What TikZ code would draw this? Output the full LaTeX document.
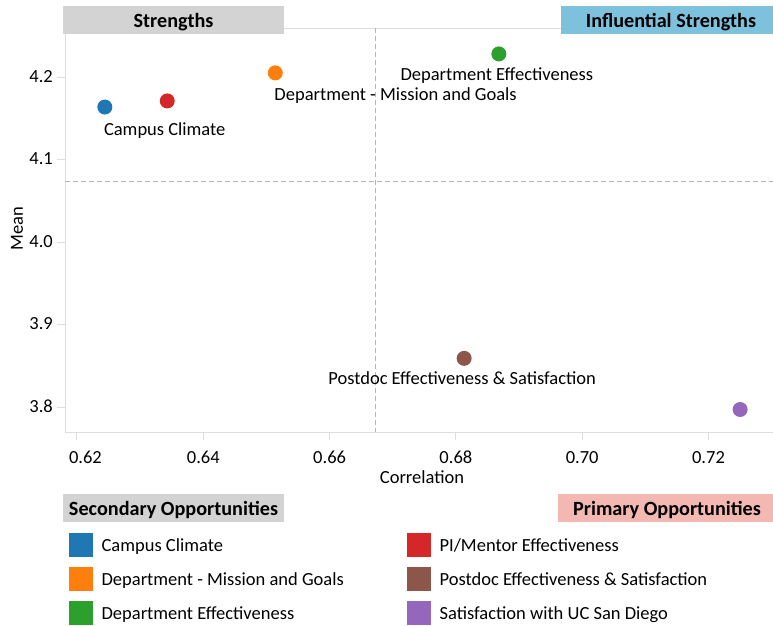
\documentclass[tikz,border=0pt]{standalone}
\usepackage{fontspec}
\setmainfont{Carlito}
\usepackage{xcolor}
\usepackage{tikz}
\usetikzlibrary{positioning,calc}

\definecolor{ccblue}{HTML}{1F77B4}
\definecolor{dmorange}{HTML}{FF7F0E}
\definecolor{degreen}{HTML}{2CA02C}
\definecolor{pired}{HTML}{D62728}
\definecolor{pebrown}{HTML}{8C564B}
\definecolor{sapurple}{HTML}{9467BD}
\definecolor{hdrgray}{HTML}{D3D3D3}
\definecolor{hdrblue}{HTML}{7EC1DC}
\definecolor{hdrpink}{HTML}{F3B8B2}
\definecolor{axisgray}{HTML}{DDDDDD}
\definecolor{guidegray}{HTML}{B4B4B4}

\begin{document}
\begin{tikzpicture}[x=1pt, y=-1pt,
    lbl/.style={font=\fontsize{18.5}{22}\selectfont, inner sep=0pt},
    hdr/.style={font=\bfseries\fontsize{20.2}{24}\selectfont, inner sep=0pt},
    dot/.style={circle, inner sep=0pt, minimum size=15pt},
    swatch/.style={inner sep=0pt, minimum size=24pt, anchor=north west},
    lgtxt/.style={lbl, text height=14pt, text depth=2pt, right=8pt of #1},
    axisline/.style={draw=axisgray, line width=1pt},
    guide/.style={draw=guidegray, line width=1pt, dash pattern=on 5pt off 3pt}]

    \useasboundingbox (0,0) rectangle (773,625);

    % Plot frame
    \coordinate (ftop) at (65,28);
    \coordinate (fbot) at (773,432);
    \draw[axisline] (ftop) rectangle (fbot);

    % Quadrant headers
    \fill[hdrgray] (63,6) rectangle (284,34);
    \node[hdr, anchor=base] (hstr) at (173.5,27) {Strengths};
    \fill[hdrblue] (561,6) rectangle (773,34);
    \node[hdr, anchor=base] (hinf) at (671,27) {Influential Strengths};

    % Data points (correlation, mean)
    \begin{scope}[x=6315pt, y=825pt, xshift=-3838.3pt, yshift=-3542pt]
        % Mean and correlation guides
        \coordinate (gv) at (0.6672,4.0);
        \coordinate (gh) at (0.64,4.073);
        \draw[guide] (gv |- ftop) -- (gv |- fbot);
        \draw[guide] (ftop |- gh) -- (fbot |- gh);

        % Axis ticks
        \foreach \c/\dx in {0.62/8.5,0.64/0,0.66/0,0.68/0,0.70/0,0.72/0} {
            \coordinate (xt) at (\c,4.0);
            \draw[axisline] (xt |- fbot) -- ++(0,-8pt);
            \node[lbl, anchor=base] (xl\c) at ($(xt |- fbot)+(\dx pt,-31pt)$) {\c};
        }
        \foreach \m in {3.8,3.9,4.0,4.1,4.2} {
            \coordinate (yt) at (0.64,\m);
            \draw[axisline] (ftop |- yt) -- ++(-8pt,0);
            \node[lbl, anchor=base east] (yl\m) at ($(ftop |- yt)+(-12pt,-5pt)$) {\m};
        }

        \node[dot, fill=ccblue] (cc) at (0.6244,4.1636) {};
        \node[dot, fill=pired] (pi) at (0.6343,4.171) {};
        \node[dot, fill=dmorange] (dm) at (0.6514,4.205) {};
        \node[dot, fill=degreen] (de) at (0.6868,4.228) {};
        \node[dot, fill=pebrown] (pe) at (0.6813,3.859) {};
        \node[dot, fill=sapurple] (sa) at (0.725,3.797) {};
    \end{scope}

    % Point labels
    \node[lbl, anchor=base west] (cclbl) at ($(cc)+(-1pt,-28pt)$) {Campus Climate};
    \node[lbl, anchor=base west] (dmlbl) at ($(dm)+(-1pt,-28pt)$) {Department - Mission and Goals};
    \node[lbl, anchor=base] (delbl) at ($(de)+(-2pt,-27pt)$) {Department Effectiveness};
    \node[lbl, anchor=base] (pelbl) at ($(pe)+(-2pt,-26pt)$) {Postdoc Effectiveness \& Satisfaction};

    % Axis titles
    \node[lbl, anchor=base] (xtitle) at (422,483) {Correlation};
    \node[lbl, anchor=base, rotate=90] (ytitle) at (23,229) {Mean};

    % Lower headers
    \fill[hdrgray] (63,494) rectangle (284,522);
    \node[hdr, anchor=base] (hsec) at (173.5,515) {Secondary Opportunities};
    \fill[hdrpink] (558,494) rectangle (773,522);
    \node[hdr, anchor=base] (hpri) at (667,515) {Primary Opportunities};

    % Legend
    \node[swatch, fill=ccblue] (lcc) at (69,533) {};
    \node[swatch, fill=dmorange] (ldm) at (69,567) {};
    \node[swatch, fill=degreen] (lde) at (69,601) {};
    \node[swatch, fill=pired] (lpi) at (407,533) {};
    \node[swatch, fill=pebrown] (lpe) at (407,567) {};
    \node[swatch, fill=sapurple] (lsa) at (407,601) {};
    \node[lgtxt=lcc] (tcc) {Campus Climate};
    \node[lgtxt=ldm] (tdm) {Department - Mission and Goals};
    \node[lgtxt=lde] (tde) {Department Effectiveness};
    \node[lgtxt=lpi] (tpi) {PI/Mentor Effectiveness};
    \node[lgtxt=lpe] (tpe) {Postdoc Effectiveness \& Satisfaction};
    \node[lgtxt=lsa] (tsa) {Satisfaction with UC San Diego};
\end{tikzpicture}
\end{document}
